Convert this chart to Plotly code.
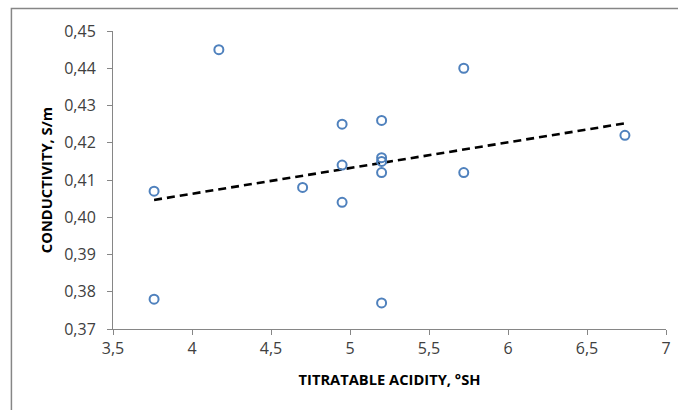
import numpy as np
import plotly.graph_objects as go

# Titratable acidity (°SH) and conductivity (S/m) of the samples
acidity = [3.76, 3.76, 4.17, 4.70, 4.95, 4.95, 4.95, 5.20, 5.20, 5.20, 5.20, 5.20, 5.72, 5.72, 6.74]
conductivity = [0.407, 0.378, 0.445, 0.408, 0.425, 0.414, 0.404, 0.426, 0.416, 0.415, 0.412, 0.377, 0.440, 0.412, 0.422]

x_ticks = [3.5, 4, 4.5, 5, 5.5, 6, 6.5, 7]
y_ticks = [0.37, 0.38, 0.39, 0.40, 0.41, 0.42, 0.43, 0.44, 0.45]

# Least-squares linear trend over the data range
slope, intercept = np.polyfit(acidity, conductivity, 1)
trend_x = [min(acidity), max(acidity)]
trend_y = [slope * v + intercept for v in trend_x]

fig = go.Figure()
fig.add_trace(go.Scatter(
    x=trend_x, y=trend_y, mode="lines",
    line=dict(color="black", width=2.6, dash="8px,5px"),
    hoverinfo="skip", showlegend=False,
))
fig.add_trace(go.Scatter(
    x=acidity, y=conductivity, mode="markers",
    marker=dict(symbol="circle-open", size=9, color="#4F81BD", line=dict(width=2)),
    showlegend=False,
))

axis_font = dict(family="'Open Sans', sans-serif", size=16, color="#404040")
title_font = dict(family="'Open Sans', sans-serif", size=14.7, color="black")

fig.update_layout(
    width=678, height=410,
    margin=dict(l=113, r=7, t=31, b=81),
    paper_bgcolor="white", plot_bgcolor="white",
    separators=", ",
    xaxis=dict(
        range=[3.5, 7], tickvals=x_ticks, showgrid=False, zeroline=False,
        showline=True, linecolor="#868686", linewidth=1,
        ticks="outside", ticklen=5, tickcolor="#868686",
        tickfont=axis_font,
        title=dict(text="<b>TITRATABLE ACIDITY, °SH</b>", font=title_font, standoff=16),
    ),
    yaxis=dict(
        range=[0.37, 0.45], tickvals=y_ticks, tickformat=".2f",
        showgrid=False, zeroline=False,
        showline=True, linecolor="#868686", linewidth=1,
        ticks="outside", ticklen=5, tickcolor="#868686",
        ticklabelstandoff=8,
        tickfont=axis_font,
        title=dict(text="<b>CONDUCTIVITY, S/m</b>", font=title_font, standoff=8),
    ),
    shapes=[dict(
        type="rect", xref="paper", yref="paper",
        x0=(10.5 - 113) / 558, x1=1.2,
        y0=-0.5, y1=(329 - 8.5) / 298,
        line=dict(color="#868686", width=1.5), fillcolor="rgba(0,0,0,0)",
        layer="below",
    )],
)

fig.write_html("out.html")
